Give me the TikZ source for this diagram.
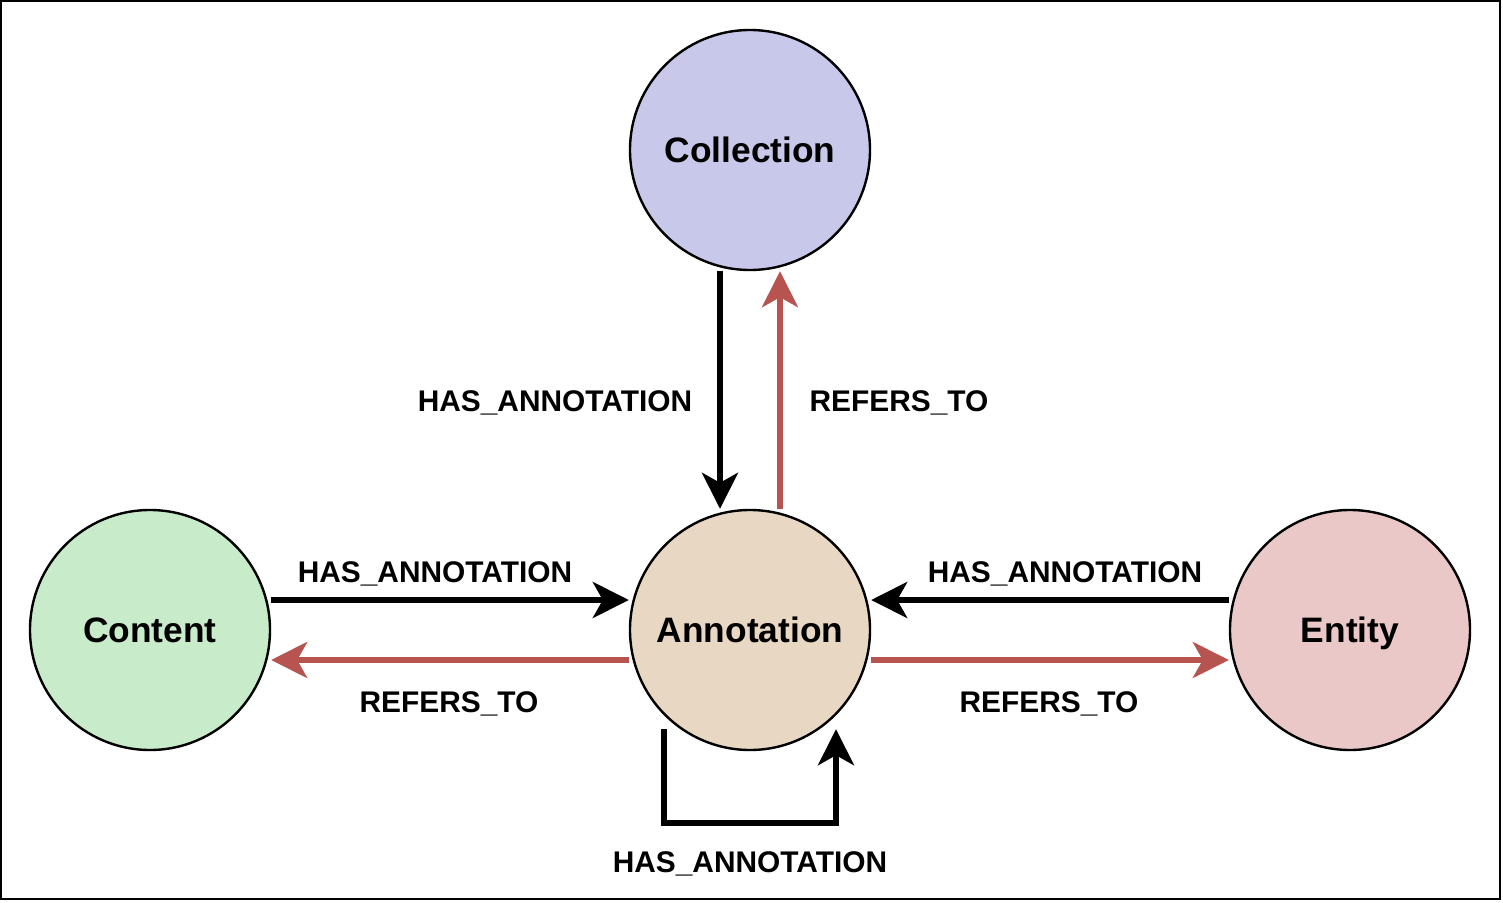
\documentclass[tikz,border=0pt]{standalone}
\usepackage{fontspec}
\setmainfont{Liberation Sans}
\usetikzlibrary{arrows.meta,calc}
\definecolor{collfill}{HTML}{C8C8EA}
\definecolor{contfill}{HTML}{C8EBCA}
\definecolor{annfill}{HTML}{E8D7C2}
\definecolor{entfill}{HTML}{EAC8C8}
\definecolor{refred}{HTML}{B85450}
\tikzset{
  entity/.style={circle, draw=black, line width=1.8pt, minimum size=180pt, inner sep=0pt,
    font=\fontsize{26.5pt}{30pt}\selectfont\bfseries, text height=19pt, text depth=0pt},
  lbl/.style={anchor=base, inner sep=0pt, font=\fontsize{22.4pt}{26pt}\selectfont\bfseries},
  tipstyle/.style={-{Stealth[length=27pt,width=27pt,inset=7.5pt]}},
  hasedge/.style={tipstyle, draw=black, line width=4.3pt},
  refedge/.style={tipstyle, draw=refred, line width=4.3pt},
}
\begin{document}
\begin{tikzpicture}[x=0.75pt, y=-0.75pt]
\useasboundingbox (0,0) rectangle (1503,903);
\draw[line width=1.5pt] (1,1) rectangle (1500,899);

\node[entity, fill=collfill] (coll) at (750,150) {Collection};
\node[entity, fill=contfill] (cont) at (150,630) {Content};
\node[entity, fill=annfill] (ann) at (750,630) {Annotation};
\node[entity, fill=entfill] (ent) at (1350,630) {Entity};

% vertical pair
\draw[hasedge] ($(coll.south)+(-30,0)$) -- ($(ann.north)+(-30,0)$);
\draw[refedge] ($(ann.north)+(30,0)$) -- ($(coll.south)+(30,0)$);
% left pair
\draw[hasedge] ($(cont.east)+(0,-30)$) -- ($(ann.west)+(0,-30)$);
\draw[refedge] ($(ann.west)+(0,30)$) -- ($(cont.east)+(0,30)$);
% right pair
\draw[hasedge] ($(ent.west)+(0,-30)$) -- ($(ann.east)+(0,-30)$);
\draw[refedge] ($(ann.east)+(0,30)$) -- ($(ent.west)+(0,30)$);
% self loop
\draw[hasedge, line join=miter] ($(ann.south)+(-86,-22)$) |- ($(ann.south)+(0,72)$) -| ($(ann.south)+(86,-22)$);

% labels
\node[lbl] (l1) at (555,411) {HAS\_ANNOTATION};
\node[lbl] (l2) at (899,411) {REFERS\_TO};
\node[lbl] (l3) at (435,582) {HAS\_ANNOTATION};
\node[lbl] (l4) at (449,712) {REFERS\_TO};
\node[lbl] (l5) at (1065,582) {HAS\_ANNOTATION};
\node[lbl] (l6) at (1049,712) {REFERS\_TO};
\node[lbl] (l7) at (750,872) {HAS\_ANNOTATION};
\end{tikzpicture}
\end{document}
